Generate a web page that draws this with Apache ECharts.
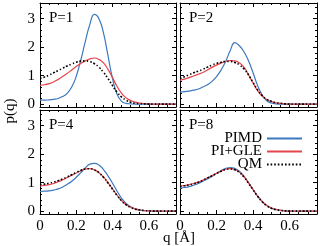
<!DOCTYPE html>
<html><head><meta charset="utf-8">
<script src="https://cdn.jsdelivr.net/npm/echarts@6/dist/echarts.min.js"></script>
<style>html,body{margin:0;padding:0;background:#fff}#c{width:320px;height:246px}</style>
</head><body><div id="c"></div>
<script>
var q = [0,0.025,0.05,0.075,0.1,0.125,0.15,0.175,0.2,0.225,0.25,0.275,0.3,0.325,0.35,0.375,0.4,0.425,0.45,0.475,0.5,0.525,0.55,0.575,0.6,0.625,0.65,0.675,0.7,0.725,0.75];
var panelLabels = ['P=1','P=2','P=4','P=8'];
var seriesNames = ['PIMD','PI+GLE','QM'];
var xTicks = ['0','0.2','0.4','0.6'];
var yTicks = ['0','1','2','3'];

var p1_pimd = [0.14,0.14,0.15,0.17,0.2,0.27,0.38,0.6,0.98,1.55,2.2,2.8,3.15,3.0,2.5,1.7,0.9,0.35,0.1,0.03,0.01,0,0,0,0,0,0,0,0,0,0];
var p1_gle  = [0.66,0.68,0.72,0.78,0.87,0.97,1.08,1.2,1.32,1.43,1.52,1.59,1.62,1.57,1.45,1.22,0.93,0.62,0.38,0.22,0.13,0.07,0.04,0.02,0.01,0,0,0,0,0,0];
var p1_qm   = [0.9,0.95,1.02,1.1,1.18,1.26,1.34,1.41,1.47,1.51,1.52,1.49,1.42,1.3,1.12,0.9,0.65,0.42,0.25,0.14,0.07,0.03,0.015,0.01,0,0,0,0,0,0,0];

var p2_pimd = [0.43,0.44,0.46,0.49,0.53,0.6,0.68,0.8,0.97,1.2,1.5,1.88,2.16,2.05,1.84,1.52,1.1,0.65,0.32,0.12,0.04,0.01,0,0,0,0,0,0,0,0,0];
var p2_gle  = [0.84,0.88,0.93,0.99,1.05,1.11,1.2,1.29,1.37,1.44,1.5,1.53,1.52,1.45,1.3,1.03,0.74,0.47,0.28,0.16,0.09,0.05,0.03,0.01,0,0,0,0,0,0,0];
var p2_qm   = [0.9,0.96,1.03,1.1,1.16,1.22,1.3,1.37,1.43,1.47,1.5,1.5,1.46,1.38,1.24,1.03,0.76,0.5,0.3,0.17,0.1,0.05,0.03,0.01,0,0,0,0,0,0,0];

var p4_pimd = [0.69,0.7,0.71,0.74,0.78,0.85,0.94,1.05,1.19,1.35,1.52,1.65,1.68,1.62,1.46,1.24,0.98,0.7,0.45,0.27,0.15,0.08,0.04,0.02,0.01,0,0,0,0,0,0];
var p4_gle  = [0.88,0.9,0.93,0.97,1.03,1.1,1.18,1.26,1.34,1.42,1.48,1.49,1.45,1.35,1.2,1.0,0.78,0.56,0.37,0.23,0.14,0.08,0.04,0.02,0.01,0,0,0,0,0,0];
var p4_qm   = [0.93,0.95,0.98,1.02,1.07,1.13,1.2,1.28,1.36,1.43,1.48,1.49,1.45,1.35,1.19,0.99,0.77,0.55,0.36,0.22,0.13,0.07,0.04,0.02,0.01,0,0,0,0,0,0];

var p8_pimd = [0.81,0.83,0.86,0.91,0.97,1.05,1.13,1.22,1.32,1.42,1.5,1.53,1.5,1.4,1.23,1.0,0.76,0.53,0.34,0.2,0.11,0.06,0.03,0.01,0,0,0,0,0,0,0];
var p8_gle  = [0.88,0.9,0.93,0.97,1.02,1.09,1.17,1.25,1.33,1.41,1.47,1.49,1.46,1.37,1.21,0.99,0.76,0.53,0.34,0.2,0.11,0.06,0.03,0.01,0,0,0,0,0,0,0];
var p8_qm   = [0.87,0.89,0.92,0.96,1.01,1.08,1.16,1.24,1.32,1.4,1.46,1.48,1.45,1.36,1.2,0.98,0.75,0.52,0.33,0.19,0.1,0.05,0.03,0.01,0,0,0,0,0,0,0];

var panels = [[p1_pimd,p1_gle,p1_qm],[p2_pimd,p2_gle,p2_qm],[p4_pimd,p4_gle,p4_qm],[p8_pimd,p8_gle,p8_qm]];
var colors = ['#3b78bf','#e5444a','#000000'];
var FONT = 'Liberation Serif';
var FS = 15;

var grids = [
  {left:40, top:3, width:136, height:104},
  {left:180, top:3, width:137, height:104},
  {left:40, top:110, width:136, height:104},
  {left:180, top:110, width:137, height:104}
];
var xAxes = [], yAxes = [], series = [], graphics = [];
var axLine = {show:true, onZero:false, lineStyle:{color:'#000', width:1}};
var tick = {show:true, inside:true, length:4, lineStyle:{color:'#000', width:1}};
function lbl(show){
  return {show:show, color:'#000', fontFamily:FONT, fontSize:FS, margin:5,
    formatter:function(v){
      var s = String(Math.round(v*100)/100);
      return (xTicks.indexOf(s)>=0 || yTicks.indexOf(s)>=0) && Math.abs(v*10 - Math.round(v*10))<1e-6 ? s : '';
    }};
}
for (var i=0;i<4;i++){
  var bottomRow = i>=2, leftCol = (i%2===0);
  ['bottom','top'].forEach(function(pos){
    xAxes.push({type:'value', gridIndex:i, position:pos, min:0, max:0.75, interval:0.2,
      axisLine:axLine, axisTick:tick,
      minorTick:{show:true, splitNumber:4, length:2, lineStyle:{color:'#000', width:1}},
      splitLine:{show:false}, minorSplitLine:{show:false},
      axisLabel: Object.assign(lbl(pos==='bottom' && bottomRow), {showMaxLabel:false})
    });
  });
  ['left','right'].forEach(function(pos){
    yAxes.push({type:'value', gridIndex:i, position:pos, min:-0.1, max:3.55, splitNumber:4,
      axisLine:axLine, axisTick:tick,
      minorTick:{show:true, splitNumber:5, length:2, lineStyle:{color:'#000', width:1}},
      splitLine:{show:false}, minorSplitLine:{show:false},
      axisLabel: Object.assign(lbl(pos==='left' && leftCol), {showMinLabel:false, showMaxLabel:false})
    });
  });
  for (var k=0;k<3;k++){
    var d = q.map(function(x,j){ return [x, panels[i][k][j]]; });
    series.push({type:'line', name:seriesNames[k], xAxisIndex:2*i, yAxisIndex:2*i,
      data:d, smooth:0.5, symbol:'none', silent:true, animation:false,
      lineStyle: k===2 ? {color:colors[k], width:1.6, type:[1.6,2]} : {color:colors[k], width:1.2},
      itemStyle:{color:colors[k]}, z: 2+k});
  }
  graphics.push({type:'text', left: grids[i].left+9, top: grids[i].top+8,
    style:{text:panelLabels[i], font:FS+'px "'+FONT+'"', fill:'#000'}});
}
graphics.push({type:'text', x:10, y:111, rotation:Math.PI/2,
  style:{text:'p(q)', font:FS+'px "'+FONT+'"', fill:'#000', align:'center', verticalAlign:'middle'}});
graphics.push({type:'text', x:179, y:238,
  style:{text:'q [Å]', font:FS+'px "'+FONT+'"', fill:'#000', align:'center', verticalAlign:'middle'}});

var chart = echarts.init(document.getElementById('c'), null, {renderer:'canvas'});
chart.setOption({
  animation:false,
  grid: grids,
  xAxis: xAxes,
  yAxis: yAxes,
  series: series,
  legend: {data:seriesNames, orient:'vertical', right:12, top:126, align:'right',
    itemWidth:35, itemHeight:12, itemGap:-2, selectedMode:false,
    itemStyle:{opacity:0, borderWidth:0},
    textStyle:{fontFamily:FONT, fontSize:FS, lineHeight:13, color:'#000', padding:[0,0,0,0]}},
  graphic: graphics
});
</script></body></html>
